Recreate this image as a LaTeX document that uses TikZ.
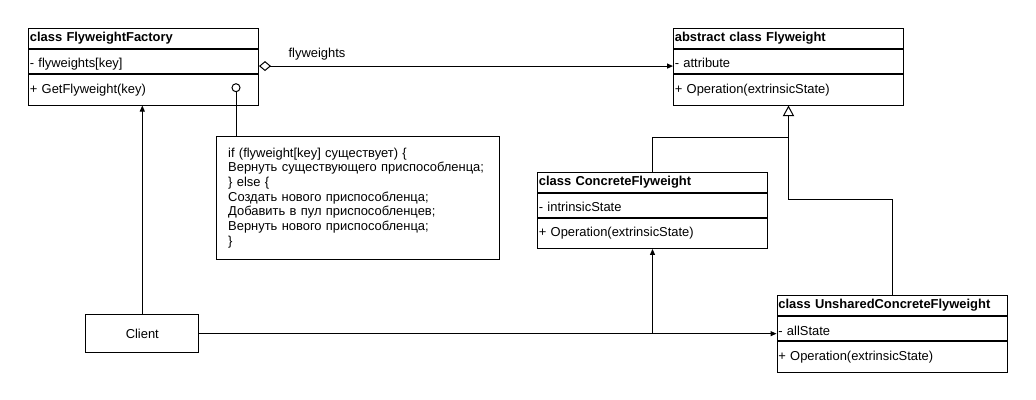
\documentclass[tikz,border=0pt]{standalone}
\usepackage{fontspec}
\setmainfont{Liberation Sans}
\usetikzlibrary{arrows.meta}
\begin{document}
\begin{tikzpicture}[x=0.75pt,y=-0.75pt,line width=0.75pt,
  font=\fontsize{9.7}{11}\selectfont,
  cell/.style={draw, rectangle, anchor=north west, inner xsep=1pt, inner ysep=0pt,
    text width=170.5pt, minimum height=#1, align=left},
  attr/.style={cell=#1, text height=9.6pt, text depth=0pt},
  arr/.style={-{Triangle[length=4.5pt,width=3.8pt]}},
  inh/.style={-{Triangle[open,length=8pt,width=8.5pt]}},
  agg/.style={{Diamond[open,length=9pt,width=7.5pt]}-{Triangle[length=4.5pt,width=3.8pt]}}]
\fill[white] (0,0) rectangle (1036,400);
\useasboundingbox (0,0) rectangle (1036,400);
% FlyweightFactory
\node[cell=15.4pt] (fac1) at (28,27.5) {\textbf{class FlyweightFactory}};
\node[attr=18pt] (fac2) at (fac1.south west) {- flyweights[key]};
\node[cell=22.9pt] (fac3) at (fac2.south west) {+ GetFlyweight(key)};
% Flyweight
\node[cell=15.4pt] (fw1) at (673,27.5) {\textbf{abstract class Flyweight}};
\node[attr=18pt] (fw2) at (fw1.south west) {- attribute};
\node[cell=22.9pt] (fw3) at (fw2.south west) {+ Operation(extrinsicState)};
% ConcreteFlyweight
\node[cell=15pt] (con1) at (537,171.7) {\textbf{class ConcreteFlyweight}};
\node[attr=18pt] (con2) at (con1.south west) {- intrinsicState};
\node[cell=22.7pt] (con3) at (con2.south west) {+ Operation(extrinsicState)};
% UnsharedConcreteFlyweight
\node[cell=15pt] (uns1) at (776.5,295) {\textbf{class UnsharedConcreteFlyweight}};
\node[attr=18.2pt] (uns2) at (uns1.south west) {- allState};
\node[cell=23.4pt] (uns3) at (uns2.south west) {+ Operation(extrinsicState)};
% Client
\node[draw, anchor=north west, minimum width=84.75pt, minimum height=28.3pt, inner sep=0pt] (client) at (85.3,314.3) {Client};
% Note
\node[draw, anchor=north west, minimum height=92.5pt, text width=194.5pt, inner xsep=9pt, align=left] (note) at (215.7,135.7)
 {if (flyweight[key] существует) \{\\
  Вернуть существующего приспособленца;\\
  \} else \{\\
  Создать нового приспособленца;\\
  Добавить в пул приспособленцев;\\
  Вернуть нового приспособленца;\\
  \}};
% note anchor circle
\node[draw, circle, minimum size=6pt, inner sep=0pt] (anc) at (236,87.7) {};
\draw (anc.south) -- (anc.south |- note.north);
% aggregation
\draw[agg] ([yshift=-3.4pt]fac2.east) -- node[pos=0.14, anchor=south, inner sep=0pt, yshift=4.3pt] {flyweights} ([yshift=-3.4pt]fac2.east -| fw2.west);
% client associations
\draw[arr] (client.north) -- (client.north |- fac3.south);
\draw[arr] (client.east) -- (client.east -| uns2.west);
\draw[arr] (client.east -| con3.south) -- (con3.south);
% inheritance
\coordinate (jA) at (0,137.3);
\coordinate (jB) at (0,199.3);
\draw (con1.north) |- (fw3.south |- jA);
\draw[inh] (uns1.north) |- (fw3.south |- jB) -- (fw3.south);
\end{tikzpicture}
\end{document}
